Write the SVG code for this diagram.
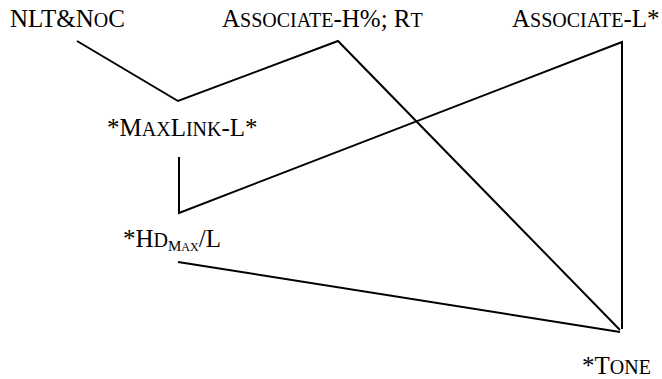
<svg xmlns="http://www.w3.org/2000/svg" width="662" height="379" viewBox="0 0 662 379">
<style>
.c{fill:none;stroke:#000;stroke-width:2;stroke-linejoin:miter}
</style>
<rect width="662" height="379" fill="#fff"/>
<g id="connectors">
<polyline class="c" points="77,41 178,101 338,41 620,330"/>
<polyline class="c" points="179,157 179,213 622,42 622,329"/>
<line class="c" x1="178" y1="262" x2="620" y2="332"/>
</g>
<g font-family="Liberation Serif" font-size="25" fill="#000">
<g id="nlt-noc"><text x="10" y="27">NLT&amp;N<tspan font-size="20">O</tspan>C</text></g>
<g id="associate-h"><text x="222" y="27">A<tspan font-size="20">SSOCIATE</tspan>-H%; R<tspan font-size="20">T</tspan></text></g>
<g id="associate-l"><text x="512" y="27">A<tspan font-size="20">SSOCIATE</tspan>-L*</text></g>
<g id="maxlink-l"><text x="107" y="136">*M<tspan font-size="20">AX</tspan>L<tspan font-size="20">INK</tspan>-L*</text></g>
<g id="hdmax-l"><text x="123" y="247">*H<tspan font-size="20">D</tspan><tspan font-size="15" dy="4">M</tspan><tspan font-size="12">AX</tspan><tspan dy="-4">/L</tspan></text></g>
<g id="tone"><text x="582" y="374">*T<tspan font-size="20">ONE</tspan></text></g>
</g>
</svg>
